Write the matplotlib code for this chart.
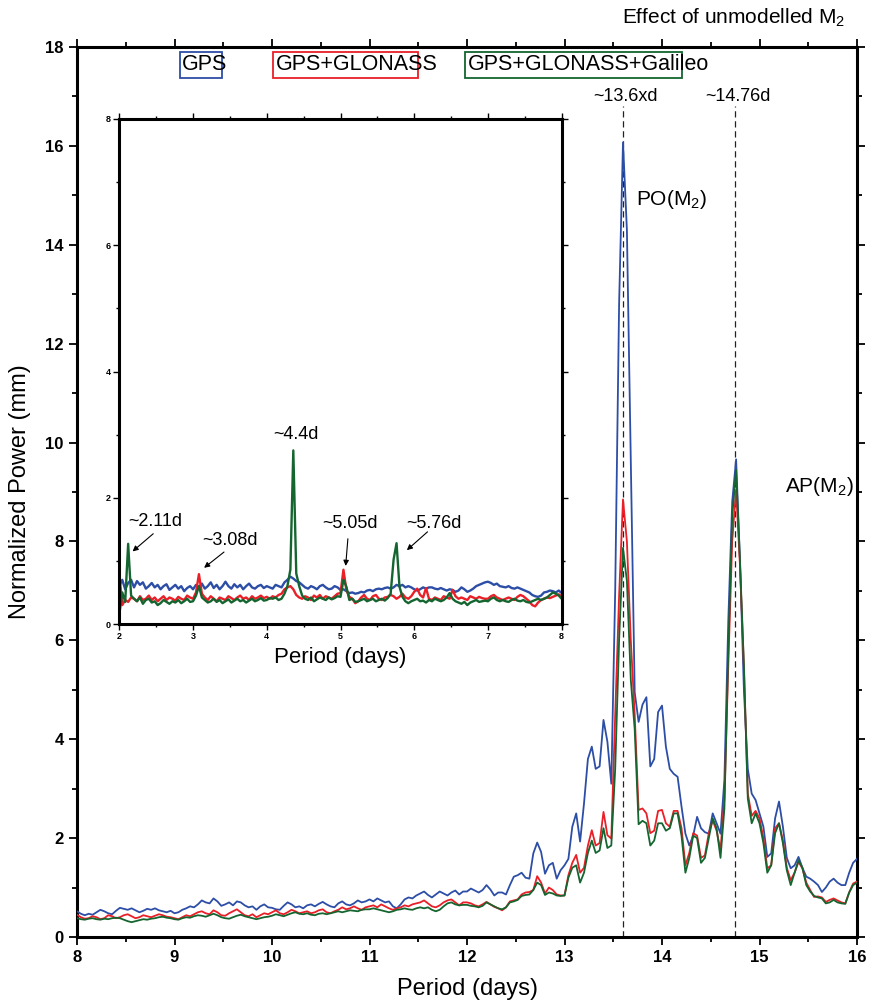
import numpy as np
import matplotlib
matplotlib.use("Agg")
import matplotlib.pyplot as plt
from matplotlib.patches import Rectangle
from matplotlib.ticker import MultipleLocator

plt.rcParams['font.family'] = ['Liberation Sans', 'DejaVu Sans']
plt.rcParams['mathtext.fontset'] = 'custom'
plt.rcParams['mathtext.rm'] = 'Liberation Sans'
plt.rcParams['mathtext.it'] = 'Liberation Sans'

# ---------------- data (main panel: period 8-16 days, step 0.04) ----------------
main_start, main_step = 8.0, 0.04
gps_main = [
    0.52,0.47,0.44,0.47,0.45,0.50,0.55,0.52,0.48,0.46,0.53,0.59,0.57,0.55,0.58,0.54,0.50,0.53,0.57,0.55,0.58,0.54,0.52,0.50,0.53,
    0.48,0.50,0.55,0.58,0.62,0.60,0.66,0.74,0.70,0.68,0.78,0.72,0.63,0.66,0.70,0.64,0.72,0.70,0.64,0.60,0.62,0.55,0.62,0.66,0.60,
    0.59,0.56,0.55,0.63,0.70,0.66,0.60,0.62,0.58,0.64,0.66,0.62,0.67,0.71,0.66,0.62,0.60,0.68,0.72,0.66,0.64,0.68,0.74,0.70,0.72,
    0.76,0.72,0.78,0.74,0.70,0.72,0.62,0.58,0.66,0.76,0.80,0.78,0.84,0.88,0.92,0.85,0.80,0.86,0.92,0.88,0.84,0.90,0.94,0.86,0.92,
    0.92,0.98,0.94,0.90,0.95,1.05,0.96,0.84,0.90,0.90,0.86,1.05,1.22,1.25,1.30,1.20,1.18,1.69,1.91,1.72,1.28,1.45,1.50,1.18,1.35,
    1.45,1.58,2.23,2.50,1.93,2.70,3.60,3.85,3.40,3.45,4.39,3.95,3.10,7.00,12.8,16.07,14.3,9.60,4.95,4.35,4.70,4.85,3.45,3.60,4.55,
    4.68,3.85,3.40,3.30,3.24,2.64,2.09,1.85,2.05,2.43,2.20,2.12,2.09,2.50,2.30,2.09,3.18,6.40,8.80,9.66,7.60,5.00,3.40,2.90,2.77,
    2.50,2.23,1.62,1.69,2.40,2.74,2.23,1.60,1.39,1.45,1.62,1.40,1.22,1.18,1.12,1.05,0.91,1.00,1.12,1.18,1.10,1.05,1.05,1.30,1.50,1.58,
]
glo_main = [
    0.45,0.40,0.37,0.38,0.42,0.40,0.36,0.38,0.44,0.42,0.38,0.40,0.44,0.46,0.42,0.38,0.40,0.44,0.42,0.40,0.43,0.46,0.44,0.41,0.40,
    0.38,0.36,0.40,0.44,0.42,0.46,0.50,0.52,0.48,0.46,0.54,0.50,0.44,0.43,0.48,0.52,0.56,0.50,0.44,0.42,0.46,0.40,0.44,0.48,0.46,
    0.50,0.54,0.48,0.46,0.50,0.55,0.52,0.48,0.50,0.52,0.48,0.50,0.54,0.56,0.50,0.48,0.52,0.55,0.60,0.56,0.58,0.62,0.58,0.55,0.60,
    0.62,0.64,0.60,0.66,0.62,0.58,0.55,0.58,0.60,0.64,0.62,0.66,0.68,0.70,0.74,0.68,0.62,0.60,0.64,0.70,0.74,0.76,0.70,0.64,0.70,
    0.70,0.68,0.64,0.62,0.66,0.71,0.66,0.61,0.58,0.54,0.60,0.72,0.74,0.76,0.86,0.90,0.91,0.95,1.23,1.10,0.88,1.00,0.95,0.86,0.84,
    0.84,1.25,1.50,1.66,1.30,1.40,1.85,2.16,1.85,1.90,2.53,2.06,1.99,4.50,6.90,8.85,8.00,6.00,4.50,2.57,2.60,2.50,2.10,2.15,2.55,
    2.57,2.30,2.23,2.55,2.55,2.20,1.45,1.70,2.10,2.05,1.60,1.65,2.10,2.36,2.15,1.75,2.80,5.50,8.00,9.05,7.50,5.47,2.90,2.45,2.55,
    2.40,2.00,1.39,1.45,2.20,2.30,1.95,1.40,1.15,1.30,1.52,1.39,1.10,0.95,0.81,0.82,0.80,0.71,0.75,0.78,0.74,0.70,0.68,0.90,1.08,1.12,
]
gal_main = [
    0.38,0.36,0.35,0.37,0.38,0.36,0.35,0.37,0.36,0.38,0.39,0.38,0.35,0.32,0.30,0.32,0.34,0.36,0.35,0.37,0.38,0.40,0.41,0.39,0.38,
    0.36,0.35,0.38,0.40,0.39,0.42,0.44,0.43,0.41,0.44,0.47,0.44,0.40,0.38,0.37,0.40,0.43,0.45,0.42,0.40,0.38,0.36,0.38,0.40,0.41,
    0.43,0.46,0.44,0.42,0.45,0.48,0.50,0.47,0.46,0.48,0.45,0.44,0.47,0.48,0.46,0.48,0.50,0.52,0.50,0.52,0.54,0.53,0.52,0.55,0.56,
    0.56,0.58,0.56,0.54,0.52,0.50,0.52,0.55,0.56,0.58,0.56,0.55,0.58,0.60,0.58,0.60,0.55,0.52,0.55,0.62,0.68,0.70,0.66,0.64,0.65,
    0.65,0.63,0.62,0.60,0.63,0.70,0.66,0.62,0.58,0.56,0.60,0.70,0.72,0.75,0.83,0.85,0.86,0.95,1.10,1.05,0.85,0.90,0.88,0.84,0.83,
    0.84,1.20,1.40,1.45,1.10,1.30,1.70,1.95,1.70,1.75,2.20,1.80,1.85,3.40,6.00,7.87,7.20,5.20,4.20,2.28,2.35,2.30,1.85,1.95,2.30,
    2.30,2.15,2.20,2.50,2.50,2.05,1.30,1.60,2.05,2.00,1.50,1.60,2.00,2.40,2.20,1.60,2.60,5.80,8.50,9.45,7.60,5.50,2.80,2.30,2.50,
    2.30,1.90,1.30,1.45,2.10,2.30,1.90,1.35,1.05,1.30,1.55,1.40,1.05,0.92,0.83,0.80,0.78,0.68,0.70,0.75,0.70,0.68,0.67,0.90,1.05,1.10,
]

# ---------------- data (inset: period 2-8 days, step 0.04) ----------------
inset_start, inset_step = 2.0, 0.04
gps_inset = [
    0.60,0.70,0.55,0.65,0.70,0.58,0.68,0.62,0.66,0.56,0.60,0.65,0.58,0.62,0.55,0.60,0.63,0.54,0.58,0.62,0.56,0.60,0.52,0.57,0.60,
    0.55,0.62,0.58,0.64,0.56,0.60,0.66,0.57,0.62,0.55,0.60,0.67,0.60,0.56,0.63,0.58,0.62,0.55,0.60,0.64,0.58,0.56,0.60,0.62,0.57,
    0.60,0.58,0.56,0.62,0.60,0.58,0.66,0.70,0.75,0.72,0.68,0.66,0.62,0.58,0.56,0.60,0.58,0.55,0.60,0.62,0.58,0.55,0.56,0.60,0.58,
    0.54,0.55,0.52,0.49,0.50,0.48,0.49,0.51,0.50,0.53,0.54,0.52,0.55,0.56,0.55,0.57,0.58,0.56,0.58,0.62,0.60,0.62,0.58,0.60,0.58,
    0.55,0.53,0.55,0.58,0.56,0.58,0.58,0.56,0.55,0.57,0.55,0.53,0.55,0.54,0.51,0.53,0.58,0.55,0.51,0.53,0.56,0.60,0.62,0.64,0.66,
    0.67,0.65,0.62,0.64,0.60,0.59,0.58,0.60,0.57,0.56,0.58,0.56,0.54,0.52,0.50,0.46,0.44,0.43,0.45,0.50,0.51,0.53,0.52,0.50,0.53,0.49,
]
glo_inset = [
    0.80,0.30,0.38,0.35,0.42,0.40,0.36,0.44,0.38,0.40,0.45,0.38,0.42,0.36,0.40,0.44,0.38,0.42,0.40,0.37,0.43,0.40,0.38,0.45,0.42,
    0.40,0.50,0.79,0.48,0.42,0.38,0.44,0.40,0.36,0.42,0.40,0.38,0.44,0.41,0.38,0.42,0.45,0.40,0.42,0.38,0.44,0.40,0.42,0.45,0.41,
    0.43,0.40,0.44,0.42,0.46,0.48,0.55,0.58,0.60,0.55,0.46,0.42,0.40,0.44,0.42,0.38,0.45,0.42,0.46,0.40,0.44,0.42,0.40,0.44,0.48,
    0.49,0.86,0.54,0.43,0.40,0.33,0.36,0.42,0.46,0.40,0.38,0.44,0.46,0.40,0.38,0.42,0.43,0.46,0.44,0.40,0.43,0.48,0.42,0.40,0.44,
    0.51,0.56,0.46,0.42,0.57,0.40,0.38,0.42,0.40,0.38,0.44,0.42,0.40,0.54,0.44,0.40,0.42,0.40,0.38,0.44,0.42,0.40,0.43,0.41,0.40,
    0.40,0.44,0.46,0.42,0.40,0.38,0.40,0.42,0.40,0.38,0.43,0.46,0.44,0.40,0.36,0.30,0.28,0.34,0.38,0.40,0.42,0.41,0.43,0.45,0.47,0.44,
]
gal_inset = [
    0.15,0.50,0.35,1.27,0.45,0.40,0.36,0.42,0.32,0.38,0.40,0.34,0.36,0.30,0.33,0.38,0.35,0.32,0.36,0.34,0.38,0.33,0.36,0.40,0.35,
    0.36,0.45,0.60,0.42,0.38,0.34,0.36,0.40,0.35,0.38,0.33,0.36,0.39,0.34,0.37,0.40,0.36,0.38,0.34,0.37,0.40,0.36,0.38,0.41,0.37,
    0.38,0.41,0.40,0.42,0.38,0.40,0.48,0.60,0.86,2.75,0.80,0.60,0.45,0.40,0.38,0.42,0.36,0.39,0.42,0.40,0.38,0.42,0.39,0.41,0.44,
    0.43,0.70,0.59,0.38,0.40,0.35,0.36,0.38,0.40,0.36,0.38,0.40,0.36,0.38,0.40,0.37,0.41,0.48,1.02,1.28,0.59,0.43,0.36,0.33,0.36,
    0.38,0.40,0.36,0.37,0.34,0.38,0.36,0.40,0.38,0.36,0.38,0.42,0.49,0.40,0.36,0.34,0.32,0.35,0.30,0.34,0.36,0.38,0.35,0.36,0.37,
    0.36,0.40,0.42,0.38,0.36,0.38,0.36,0.35,0.38,0.40,0.37,0.36,0.38,0.35,0.34,0.36,0.38,0.40,0.38,0.40,0.42,0.46,0.50,0.48,0.45,0.40,
]

series_labels = ["GPS", "GPS+GLONASS", "GPS+GLONASS+Galileo"]
series_colors = ["#2d4ea6", "#ea1f27", "#14652f"]
m2_periods = [13.6, 14.75]
m2_period_labels = ["~13.6xd", "~14.76d"]
inset_peaks = [2.12, 3.08, 4.40, 5.04, 5.76]
inset_peak_labels = ["~2.11d", "~3.08d", "~4.4d", "~5.05d", "~5.76d"]

def xgrid(start, step, vals):
    return start + step * np.arange(len(vals))

W, H = 880, 1001
fig = plt.figure(figsize=(W / 100, H / 100), dpi=100)

# ---------------- main axes ----------------
ax = fig.add_axes([77 / W, 1 - 937 / H, 780 / W, 890 / H])
for vals, col in zip([gps_main, glo_main, gal_main], series_colors):
    ax.plot(xgrid(main_start, main_step, vals), vals, color=col, lw=1.3, zorder=3)
ax.set_xlim(8, 16)
ax.set_ylim(0, 18)
ax.xaxis.set_major_locator(MultipleLocator(1))
ax.xaxis.set_minor_locator(MultipleLocator(0.5))
ax.yaxis.set_major_locator(MultipleLocator(2))
ax.yaxis.set_minor_locator(MultipleLocator(1))
ax.tick_params(which='both', direction='out', top=True, right=True, width=1.3)
ax.tick_params(which='major', length=6, labelsize=12)
ax.tick_params(which='minor', length=3.5)
for lab in ax.get_xticklabels() + ax.get_yticklabels():
    lab.set_fontweight('bold')
for sp in ax.spines.values():
    sp.set_linewidth(2.2)
ax.set_xlabel("Period (days)", fontsize=17, labelpad=9)
ax.set_ylabel("Normalized Power (mm)", fontsize=17, labelpad=10,
              family=['Liberation Sans Narrow', 'Liberation Sans', 'DejaVu Sans'])

for p, lab in zip(m2_periods, m2_period_labels):
    ax.plot([p, p], [0, 16.8], color='#222222', lw=0.9, ls=(0, (5, 3)), zorder=2)
    ax.text(p + 0.03, 17.0, lab, fontsize=13, ha='center', va='center')

ax.text(13.73, 14.92, "PO(M$_2$)", fontsize=15, ha='left', va='center')
ax.text(15.26, 9.11, "AP(M$_2$)", fontsize=15, ha='left', va='center')

# legend-like labels with boxes
def fx(px):
    return (px - 77) / 780
def fy(py):
    return (937 - py) / 890
box_x = [(180, 222), (273, 418), (465, 682)]
text_x = [182, 276, 468]
for (x0, x1), tx, lab, col in zip(box_x, text_x, series_labels, series_colors):
    ax.add_patch(Rectangle((fx(x0), fy(78)), fx(x1) - fx(x0), fy(52) - fy(78),
                           transform=ax.transAxes, fill=False, edgecolor=col, lw=1.3, zorder=5))
    ax.text(fx(tx), fy(65), lab, transform=ax.transAxes, fontsize=15.5,
            ha='left', va='center', zorder=6)

fig.text(845 / W, 1 - 18 / H, "Effect of unmodelled M$_2$", fontsize=15, ha='right', va='center',
         family=['Liberation Sans Narrow', 'Liberation Sans', 'DejaVu Sans'])

# ---------------- inset axes ----------------
axi = fig.add_axes([119.3 / W, 1 - 624 / H, 442.4 / W, 505 / H])
axi.set_facecolor('white')
for vals, col in zip([gps_inset, glo_inset, gal_inset], series_colors):
    axi.plot(xgrid(inset_start, inset_step, vals), vals, color=col, lw=1.7)
axi.set_xlim(2, 8)
axi.set_ylim(0, 8)
axi.xaxis.set_major_locator(MultipleLocator(1))
axi.xaxis.set_minor_locator(MultipleLocator(0.5))
axi.yaxis.set_major_locator(MultipleLocator(2))
axi.yaxis.set_minor_locator(MultipleLocator(1))
axi.tick_params(which='both', direction='out', top=True, right=True, width=1.0, pad=2)
axi.tick_params(which='major', length=4, labelsize=6.5)
axi.tick_params(which='minor', length=2.5)
for lab in axi.get_xticklabels() + axi.get_yticklabels():
    lab.set_fontweight('bold')
for sp in axi.spines.values():
    sp.set_linewidth(2.2)
axi.set_xlabel("Period (days)", fontsize=16, labelpad=4)

# peak annotations in inset (text position, arrow start, arrow end)
ann_text_pos = [(2.12, 1.62), (3.12, 1.32), (4.39, 3.0), (5.13, 1.6), (6.27, 1.59)]
ann_text_ha = ['left', 'left', 'center', 'center', 'center']
ann_arrow = [((2.46, 1.43), (2.18, 1.15)), ((3.42, 1.14), (3.15, 0.89)), None,
             ((5.10, 1.35), (5.07, 0.92)), ((6.18, 1.46), (5.90, 1.17))]
for (tx, ty), ha, lab, arr in zip(ann_text_pos, ann_text_ha, inset_peak_labels, ann_arrow):
    axi.text(tx, ty, lab, fontsize=13, ha=ha, va='center')
    if arr is not None:
        axi.annotate("", xy=arr[1], xytext=arr[0],
                     arrowprops=dict(arrowstyle='-|>', color='black', lw=0.8,
                                     mutation_scale=8, shrinkA=0, shrinkB=0))

fig.savefig("out.png", dpi=100)
